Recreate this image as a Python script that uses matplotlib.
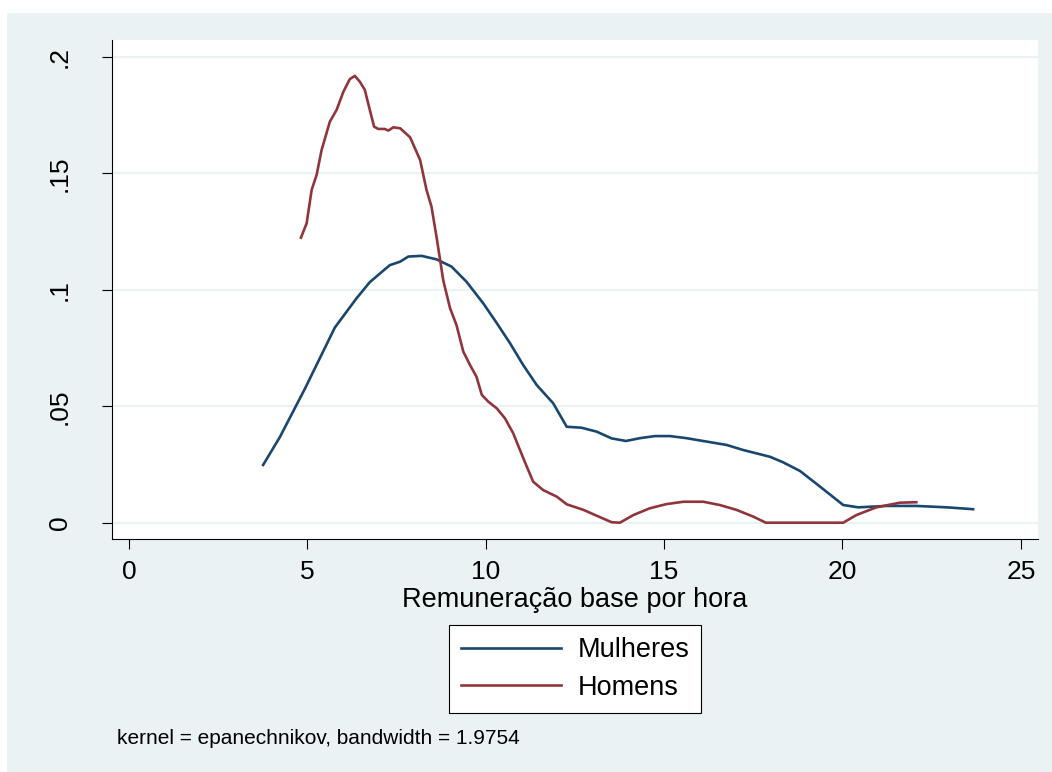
import numpy as np
import matplotlib
matplotlib.use('Agg')
import matplotlib.pyplot as plt
from matplotlib.patches import Rectangle

plt.rcParams['font.family'] = ['Liberation Sans', 'DejaVu Sans']

# densidade - mulheres
x_mulheres = [3.76, 4.23, 4.93, 5.77, 6.38, 6.75, 7.31, 7.60, 7.83, 8.20, 8.62,
              9.04, 9.46, 9.93, 10.31, 10.68, 11.05, 11.43, 11.89, 12.27, 12.68,
              13.11, 13.53, 13.93, 14.32, 14.74, 15.16, 15.63, 16.05, 16.75,
              17.22, 17.97, 18.34, 18.81, 19.37, 20.02, 20.44, 21.23, 22.07,
              22.92, 23.66]
y_mulheres = [0.0248, 0.0368, 0.0575, 0.0838, 0.0964, 0.1033, 0.1106, 0.1121,
              0.1143, 0.1146, 0.1131, 0.1100, 0.1035, 0.0942, 0.0857, 0.0771,
              0.0677, 0.0591, 0.0513, 0.0412, 0.0408, 0.0391, 0.0362, 0.0351,
              0.0363, 0.0372, 0.0372, 0.0363, 0.0352, 0.0334, 0.0312, 0.0283,
              0.0259, 0.0222, 0.0155, 0.0076, 0.0066, 0.0072, 0.0072, 0.0066,
              0.0058]

# densidade - homens
x_homens = [4.82, 4.98, 5.12, 5.26, 5.40, 5.63, 5.82, 6.01, 6.19, 6.33, 6.47,
            6.61, 6.75, 6.87, 6.99, 7.17, 7.27, 7.41, 7.60, 7.88, 8.16, 8.34,
            8.48, 8.62, 8.81, 9.00, 9.18, 9.37, 9.56, 9.74, 9.89, 10.07, 10.31,
            10.54, 10.77, 10.96, 11.15, 11.33, 11.61, 11.99, 12.27, 12.74,
            13.11, 13.53, 13.76, 14.14, 14.60, 15.07, 15.54, 16.10, 16.56,
            17.03, 17.50, 17.85, 20.02, 20.39, 20.95, 21.61, 22.07]
y_homens = [0.1224, 0.1286, 0.1429, 0.1494, 0.1601, 0.1722, 0.1773, 0.1851,
            0.1905, 0.1919, 0.1894, 0.1859, 0.1773, 0.1701, 0.1691, 0.1691,
            0.1684, 0.1698, 0.1694, 0.1655, 0.1558, 0.1429, 0.1357, 0.1228,
            0.1040, 0.0921, 0.0849, 0.0735, 0.0677, 0.0627, 0.0549, 0.0520,
            0.0491, 0.0448, 0.0384, 0.0312, 0.0241, 0.0176, 0.0140, 0.0112,
            0.0079, 0.0055, 0.0030, 0.0002, 0.0, 0.0033, 0.0062, 0.0080,
            0.0090, 0.0090, 0.0076, 0.0055, 0.0026, 0.0, 0.0, 0.0033, 0.0066,
            0.0086, 0.0088]

x_ticks = [0, 5, 10, 15, 20, 25]
y_ticks = [0, 0.05, 0.1, 0.15, 0.2]
y_labels = ['0', '.05', '.1', '.15', '.2']

W, H = 1052, 772
fig = plt.figure(figsize=(W / 100, H / 100), dpi=100, facecolor='white')
# fundo do grafico (borda branca em cima e a esquerda)
fig.patches.append(Rectangle((7 / W, 0), 1 - 7 / W, 1 - 13 / H,
                             transform=fig.transFigure, facecolor='#EAF2F3',
                             edgecolor='none', zorder=-10))

ax = fig.add_axes([112 / W, 1 - 539 / H, (1038 - 112) / W, (539 - 40) / H])
ax.set_facecolor('white')

ax.plot(x_mulheres, y_mulheres, color='#1A476F', lw=1.9, label='Mulheres')
ax.plot(x_homens, y_homens, color='#90353B', lw=1.9, label='Homens')

ax.set_xlim(-0.476, 25.48)
ax.set_ylim(-0.007, 0.2073)
ax.set_xticks(x_ticks)
ax.set_yticks(y_ticks)
ax.set_yticklabels(y_labels, rotation=90, va='center')
ax.tick_params(direction='out', length=7, width=0.8, labelsize=19)
ax.tick_params(axis='x', pad=8)
ax.tick_params(axis='y', pad=22)
ax.grid(axis='y', color='#EAF2F3', lw=1.6)
ax.set_axisbelow(True)
for s in ['top', 'right']:
    ax.spines[s].set_visible(False)
for s in ['left', 'bottom']:
    ax.spines[s].set_linewidth(0.8)

ax.set_xlabel('Remuneração base por hora', fontsize=19.5, labelpad=2)

leg = fig.legend(loc='upper center', bbox_to_anchor=(575 / W, 1 - 625 / H),
                 fontsize=19.5, frameon=True, fancybox=False, edgecolor='black',
                 framealpha=1, handlelength=3.7, handletextpad=0.6,
                 borderpad=0.45, labelspacing=0.42, borderaxespad=0)
leg.get_frame().set_linewidth(0.8)

fig.text(117 / W, 1 - 738 / H, 'kernel = epanechnikov, bandwidth = 1.9754',
         fontsize=15, va='center', ha='left')

fig.savefig('out.png', dpi=100, facecolor='white')
